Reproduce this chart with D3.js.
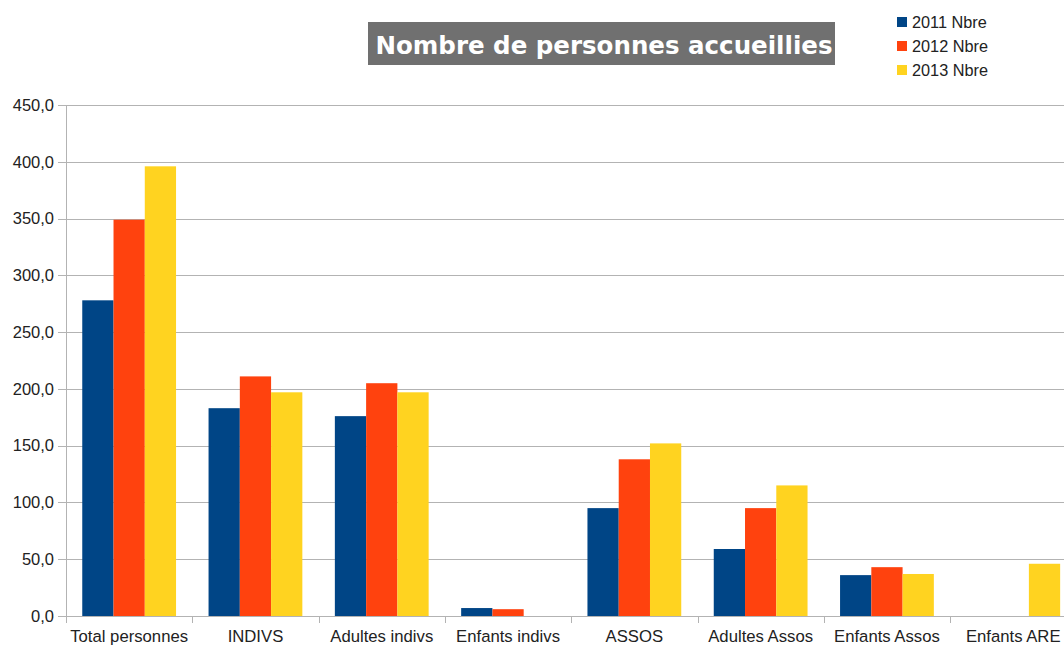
<!DOCTYPE html>
<html><head><meta charset="utf-8">
<script src="https://cdn.jsdelivr.net/npm/d3@7"></script>
<style>
html,body{margin:0;padding:0;background:#fff;overflow:hidden;}
svg{display:block;}
</style></head>
<body>
<svg id="c" width="1064" height="645"></svg>
<script>
const categories = ["Total personnes","INDIVS","Adultes indivs","Enfants indivs","ASSOS","Adultes Assos","Enfants Assos","Enfants ARE"];
const seriesNames = ["2011 Nbre","2012 Nbre","2013 Nbre"];
const values2011 = [278, 183, 176, 7, 95, 59, 36, 0];
const values2012 = [349, 211, 205, 6, 138, 95, 43, 0];
const values2013 = [396, 197, 197, 0, 152, 115, 37, 46];
const yTicks = [0, 50, 100, 150, 200, 250, 300, 350, 400, 450];
const colors = ["#004586", "#ff420e", "#ffd320"];
const chartTitle = "Nombre de personnes accueillies";

(function () {
const seriesValues = [values2011, values2012, values2013];
const svg = d3.select("#c");
const W = 1064;
const plotLeft = 66, plotTop = 105, plotBottom = 616;

const y = d3.scaleLinear().domain([0, 450]).range([plotBottom, plotTop]);
const x0 = d3.scaleBand().domain(categories).range([plotLeft, plotLeft + 8 * 126.3]).padding(0);
const x1 = d3.scaleBand().domain(seriesNames).range([0, x0.bandwidth()]).paddingInner(0).paddingOuter(0.52);

const fmt = v => d3.format(".1f")(v).replace(".", ",");
const labelFont = "'Liberation Sans', Arial, sans-serif";

// gridlines
svg.append("g").selectAll("line").data(yTicks).join("line")
  .attr("x1", 58).attr("x2", W)
  .attr("y1", d => Math.round(y(d)) + 0.5).attr("y2", d => Math.round(y(d)) + 0.5)
  .attr("stroke", "#b3b3b3").attr("stroke-width", 1);

// y axis line
svg.append("line").attr("x1", plotLeft + 0.5).attr("x2", plotLeft + 0.5)
  .attr("y1", y(450)).attr("y2", y(0) + 7)
  .attr("stroke", "#b3b3b3");

// y labels
svg.append("g").selectAll("text").data(yTicks).join("text")
  .attr("x", 54).attr("y", d => y(d)).attr("dy", "0.35em")
  .attr("text-anchor", "end")
  .attr("font-family", labelFont).attr("font-size", 16.5).attr("fill", "#222")
  .text(d => fmt(d));

// x ticks at band boundaries
svg.append("g").selectAll("line").data(categories.slice(1)).join("line")
  .attr("x1", d => Math.round(x0(d)) + 0.5).attr("x2", d => Math.round(x0(d)) + 0.5)
  .attr("y1", y(0)).attr("y2", y(0) + 7)
  .attr("stroke", "#b3b3b3");

// bars
const groups = svg.append("g").selectAll("g").data(categories).join("g")
  .attr("transform", d => `translate(${x0(d)},0)`);
groups.selectAll("rect")
  .data((c, i) => seriesNames.map((s, j) => ({ s, j, v: seriesValues[j][i] })))
  .join("rect")
  .attr("x", d => x1(d.s)).attr("width", x1.bandwidth())
  .attr("y", d => y(d.v)).attr("height", d => y(0) - y(d.v))
  .attr("fill", d => colors[d.j]);

// x labels
svg.append("g").selectAll("text").data(categories).join("text")
  .attr("x", d => x0(d) + x0.bandwidth() / 2).attr("y", 642)
  .attr("text-anchor", "middle")
  .attr("font-family", labelFont).attr("font-size", 16.7).attr("fill", "#222")
  .text(d => d);

// title
svg.append("rect").attr("x", 368).attr("y", 22).attr("width", 467).attr("height", 43).attr("fill", "#707070");
svg.append("text").attr("x", 604).attr("y", 54)
  .attr("text-anchor", "middle")
  .attr("font-family", "'DejaVu Sans', Verdana, sans-serif").attr("font-weight", "bold")
  .attr("font-size", 24.5).attr("fill", "#fff")
  .text(chartTitle);

// legend
const lg = svg.append("g").selectAll("g").data(seriesNames).join("g")
  .attr("transform", (d, i) => `translate(897,${22 + i * 24})`);
lg.append("rect").attr("x", 0).attr("y", -5).attr("width", 10).attr("height", 10)
  .attr("fill", (d, i) => colors[i]);
lg.append("text").attr("x", 15).attr("y", 0).attr("dy", "0.35em")
  .attr("font-family", labelFont).attr("font-size", 16.3).attr("fill", "#222")
  .text(d => d);
})();
</script>
</body></html>
